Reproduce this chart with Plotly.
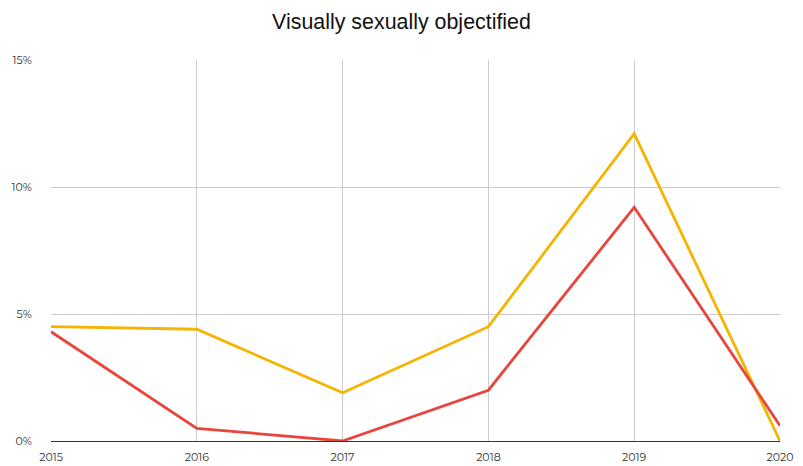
import plotly.graph_objects as go

years = [2015, 2016, 2017, 2018, 2019, 2020]
yellow_vals = [4.5, 4.4, 1.9, 4.5, 12.1, 0.0]
red_vals = [4.3, 0.5, 0.0, 2.0, 9.2, 0.6]
y_ticks = [0, 5, 10, 15]
y_tick_text = ["0%", "5%", "10%", "15%"]

fig = go.Figure()
fig.add_trace(go.Scatter(x=years, y=yellow_vals, mode="lines",
                         line=dict(color="#F4B400", width=2.8), name="A"))
fig.add_trace(go.Scatter(x=years, y=red_vals, mode="lines",
                         line=dict(color="#E8453C", width=2.8), name="B"))

fig.update_layout(
    width=803, height=466,
    margin=dict(l=51, r=23, t=60, b=25, autoexpand=False),
    paper_bgcolor="white", plot_bgcolor="white",
    showlegend=False,
    title=dict(text="Visually sexually objectified", x=0.5, xanchor="center",
               y=0.953, yanchor="middle",
               font=dict(family="Liberation Sans, Arial", size=21.4, color="#111111")),
    font=dict(family="Montserrat, Open Sans, Noto Sans", size=11, color="#333333"),
    xaxis=dict(range=[2015, 2020], tickvals=years, ticktext=[str(y) for y in years],
               showgrid=True, gridcolor="#cccccc", gridwidth=1.3, automargin=False,
               zeroline=False, showline=False,
               ticks="outside", ticklen=6, tickcolor="rgba(0,0,0,0)"),
    yaxis=dict(range=[0, 15], tickvals=y_ticks, ticktext=y_tick_text,
               showgrid=True, gridcolor="#cccccc", gridwidth=1.3, automargin=False,
               zeroline=True, zerolinecolor="#333333", zerolinewidth=1.3,
               ticks="outside", ticklen=16, tickcolor="rgba(0,0,0,0)"),
)
fig.write_html("out.html", config={"displayModeBar": False},
               post_script="document.body.style.margin='0';document.body.style.overflow='hidden';")
